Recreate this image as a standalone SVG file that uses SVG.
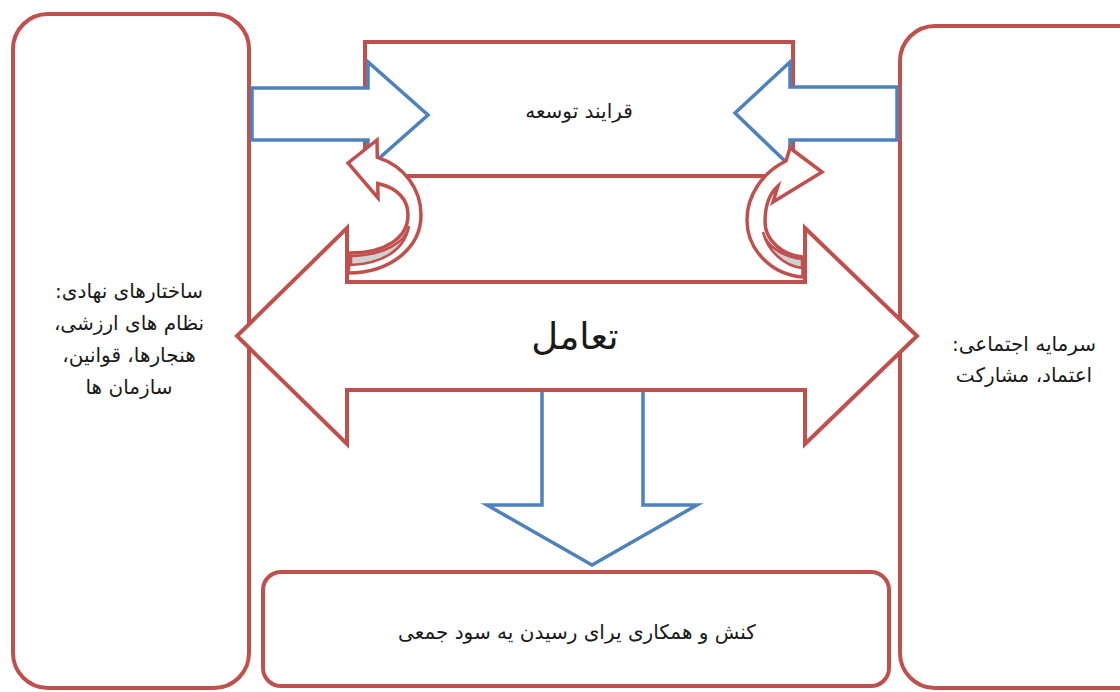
<svg xmlns="http://www.w3.org/2000/svg" width="1120" height="692" viewBox="0 0 1120 692">
<style>
.box{fill:#ffffff;stroke:#C0504D;stroke-width:4}
.red{fill:#ffffff;stroke:#C0504D;stroke-width:4;stroke-linejoin:miter}
.blue{fill:#ffffff;stroke:#4F81BD;stroke-width:3.5;stroke-linejoin:miter}
.curve{fill:#ffffff;stroke:#C0504D;stroke-width:3.5;stroke-linejoin:miter}
.shade{fill:#D0D0D0;stroke:#C0504D;stroke-width:2.5}
.t{font-family:'DejaVu Sans','Noto Sans',sans-serif;fill:#1a1a1a;text-anchor:middle;direction:rtl}
.side{font-size:20px}
.mid{font-size:20px}
.big{font-size:37px}
</style>
<rect width="1120" height="692" fill="#ffffff"/>
<g id="node-institutions">
<rect class="box" x="13" y="14" width="236" height="674" rx="35"/>
<text class="t side" x="129" y="298">ساختارهای نهادی:</text>
<text class="t side" x="129" y="330">نظام های ارزشی،</text>
<text class="t side" x="129" y="362">هنجارها، قوانین،</text>
<text class="t side" x="129" y="394">سازمان ها</text>
</g>
<g id="node-social-capital">
<rect class="box" x="900" y="26" width="260" height="662" rx="35"/>
<text class="t side" x="1024" y="351">سرمایه اجتماعی:</text>
<text class="t side" x="1024" y="382">اعتماد، مشارکت</text>
</g>
<g id="node-development">
<rect class="box" x="365" y="42" width="428" height="134"/>
<text class="t mid" x="579" y="118">قرایند توسعه</text>
</g>
<g id="node-collective-action">
<rect class="box" x="263" y="572" width="626" height="114" rx="18"/>
<text class="t mid" x="577" y="639">کنش و همکاری یرای رسیدن یه سود جمعی</text>
</g>
<g id="node-interaction">
<polygon class="red" points="237,336 347,228 347,282 805,282 805,228 917,336 805,444 805,390 347,390 347,444"/>
<text class="t big" x="575" y="349">تعامل</text>
</g>
<g id="connectors">
<polygon class="blue" points="252,88 368,88 368,62 428,115 368,168 368,140 252,140"/>
<polygon class="blue" points="897,87 790,87 790,62 735,113 790,166 790,140 897,140"/>
<path class="blue" d="M542,392 L542,505 L487,505 L592,565 L697,505 L643,505 L643,392"/>
<path class="curve" d="M348,163 L377,140 L377.3,157.4 C405,166 421,190 421,215 C421,248 390,273 348,273 L350,253 C385,253 408,238 408,215 C408,200 398,188 377.8,183.5 L378,198 Z"/>
<path class="shade" d="M351,256 C385,255 406,242 409,226 C405,249 385,263 351,265 Z"/>
<path class="curve" d="M822,172 L790,148 L786,161 C763,172 747,195 747,220 C747,250 772,275 803,277 L803,257 C782,255 765,240 765,222 C765,205 770,193 778,186 L773,202 Z"/>
<path class="shade" d="M802,259 C782,257 766,245 763,232 C768,252 785,266 802,268 Z"/>
</g>
</svg>
